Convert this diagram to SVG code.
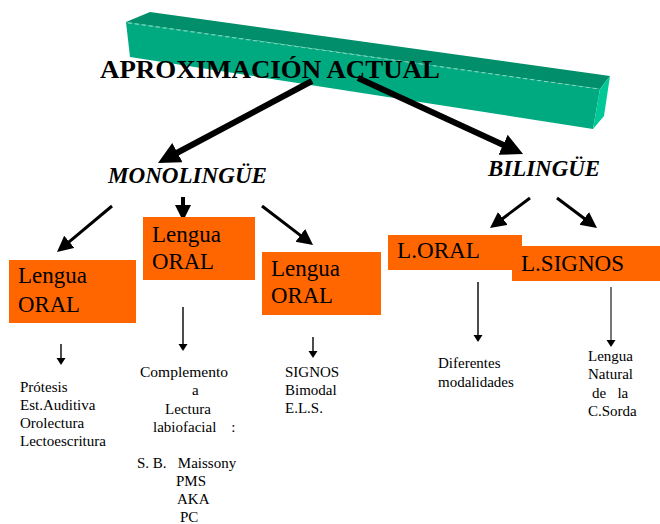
<svg xmlns="http://www.w3.org/2000/svg" width="660" height="524" viewBox="0 0 660 524" font-family="'Liberation Serif', Tinos, 'Times New Roman', 'DejaVu Serif', 'Noto Serif', serif">
<style>
text{font-family:"Liberation Serif",Tinos,"Times New Roman","DejaVu Serif","Noto Serif",serif;fill:#000}
.title{font-size:26px;font-weight:bold}
.cat{font-size:23px;font-weight:bold;font-style:italic}
.box{fill:#FF6600}
.bt{font-size:23px}
.sm{font-size:15px}
.big{stroke:#000;stroke-width:6;fill:none}
.mid{stroke:#000;stroke-width:3;fill:none}
.thin{stroke:#000;stroke-width:1.4;fill:none}
</style>
<defs>
<marker id="hb" markerUnits="userSpaceOnUse" markerWidth="24" markerHeight="24" refX="4" refY="11" orient="auto"><path d="M0,0 L22,11 L0,22 z" fill="#000"/></marker>
<marker id="hm" markerUnits="userSpaceOnUse" markerWidth="18" markerHeight="18" refX="3" refY="8" orient="auto"><path d="M0,0 L16,8 L0,16 z" fill="#000"/></marker>
<marker id="hs" markerUnits="userSpaceOnUse" markerWidth="10" markerHeight="10" refX="1" refY="4.5" orient="auto"><path d="M0,0 L7,4.5 L0,9 z" fill="#000"/></marker>
</defs>
<rect width="660" height="524" fill="#fff"/>
<g id="bar">
<polygon points="126,22 150,12 610,76 600,89" fill="#008F6A"/>
<polygon points="126,22 600,89 593,129 130,57" fill="#00AA80"/>
<polygon points="600,89 610,76 604,116 593,129" fill="#00C896"/>
<line x1="128" y1="23" x2="599" y2="89" stroke="#9FE0C8" stroke-width="0.8" stroke-dasharray="4,3"/>
</g>
<g id="title"><text class="title" x="100" y="78" textLength="340" lengthAdjust="spacingAndGlyphs">APROXIMACIÓN ACTUAL</text></g>
<g id="connectors">
<line class="big" x1="312" y1="81" x2="173.9" y2="154.5" marker-end="url(#hb)"/>
<line class="big" x1="358" y1="78" x2="506.7" y2="146.5" marker-end="url(#hb)"/>
<line class="mid" x1="112" y1="206" x2="67" y2="243.7" marker-end="url(#hm)"/>
<line class="mid" x1="183" y1="197" x2="183" y2="208" style="stroke-width:4" marker-end="url(#hm)"/>
<line class="mid" x1="262" y1="206" x2="302.7" y2="237.1" marker-end="url(#hm)"/>
<line class="mid" x1="530" y1="198" x2="500.4" y2="220.2" marker-end="url(#hm)"/>
<line class="mid" x1="557" y1="198" x2="586.6" y2="220.2" marker-end="url(#hm)"/>
<line class="thin" x1="61" y1="344" x2="61" y2="359" marker-end="url(#hs)"/>
<line class="thin" x1="183" y1="307" x2="183" y2="345" marker-end="url(#hs)"/>
<line class="thin" x1="313" y1="337" x2="313" y2="352" marker-end="url(#hs)"/>
<line class="thin" x1="478" y1="282" x2="478" y2="336" marker-end="url(#hs)"/>
<line class="thin" x1="611" y1="287" x2="611" y2="341" style="stroke:#777;stroke-width:2" marker-end="url(#hs)"/>
</g>
<g id="monolingue"><text class="cat" x="108" y="183" textLength="159" lengthAdjust="spacingAndGlyphs">MONOLINGÜE</text></g>
<g id="bilingue"><text class="cat" x="488" y="176" textLength="112" lengthAdjust="spacingAndGlyphs">BILINGÜE</text></g>
<g id="oral1"><rect class="box" x="9" y="260" width="127" height="63"/><text class="bt" x="18" y="283" textLength="69" lengthAdjust="spacingAndGlyphs">Lengua</text><text class="bt" x="18" y="312" textLength="62" lengthAdjust="spacingAndGlyphs">ORAL</text></g>
<g id="oral2"><rect class="box" x="143" y="217" width="112" height="63"/><text class="bt" x="152" y="242" textLength="69" lengthAdjust="spacingAndGlyphs">Lengua</text><text class="bt" x="152" y="269" textLength="62" lengthAdjust="spacingAndGlyphs">ORAL</text></g>
<g id="oral3"><rect class="box" x="262" y="252" width="119" height="63"/><text class="bt" x="271" y="276" textLength="69" lengthAdjust="spacingAndGlyphs">Lengua</text><text class="bt" x="271" y="303" textLength="62" lengthAdjust="spacingAndGlyphs">ORAL</text></g>
<g id="loral"><rect class="box" x="388" y="235" width="134" height="35"/><text class="bt" x="397" y="258" textLength="83" lengthAdjust="spacingAndGlyphs">L.ORAL</text></g>
<g id="lsignos"><rect class="box" x="512" y="246" width="148" height="35"/><text class="bt" x="521" y="271" textLength="103" lengthAdjust="spacingAndGlyphs">L.SIGNOS</text></g>
<g id="t1"><text class="sm" x="20" y="392">Prótesis</text><text class="sm" x="20" y="410">Est.Auditiva</text><text class="sm" x="20" y="428">Orolectura</text><text class="sm" x="20" y="446" textLength="86" lengthAdjust="spacingAndGlyphs">Lectoescritura</text></g>
<g id="t2"><text class="sm" x="140" y="377" textLength="88" lengthAdjust="spacingAndGlyphs">Complemento</text><text class="sm" x="192" y="395">a</text><text class="sm" x="165" y="414">Lectura</text><text class="sm" x="153" y="432" xml:space="preserve">labiofacial    :</text><text class="sm" x="137" y="468" xml:space="preserve">S. B.   Maissony</text><text class="sm" x="176" y="486">PMS</text><text class="sm" x="177" y="504">AKA</text><text class="sm" x="180" y="522">PC</text></g>
<g id="t3"><text class="sm" x="285" y="377">SIGNOS</text><text class="sm" x="285" y="395">Bimodal</text><text class="sm" x="285" y="413">E.L.S.</text></g>
<g id="t4"><text class="sm" x="438" y="368">Diferentes</text><text class="sm" x="438" y="387">modalidades</text></g>
<g id="t5"><text class="sm" x="588" y="361">Lengua</text><text class="sm" x="588" y="379">Natural</text><text class="sm" x="592" y="398" xml:space="preserve">de   la</text><text class="sm" x="588" y="416">C.Sorda</text></g>
</svg>
